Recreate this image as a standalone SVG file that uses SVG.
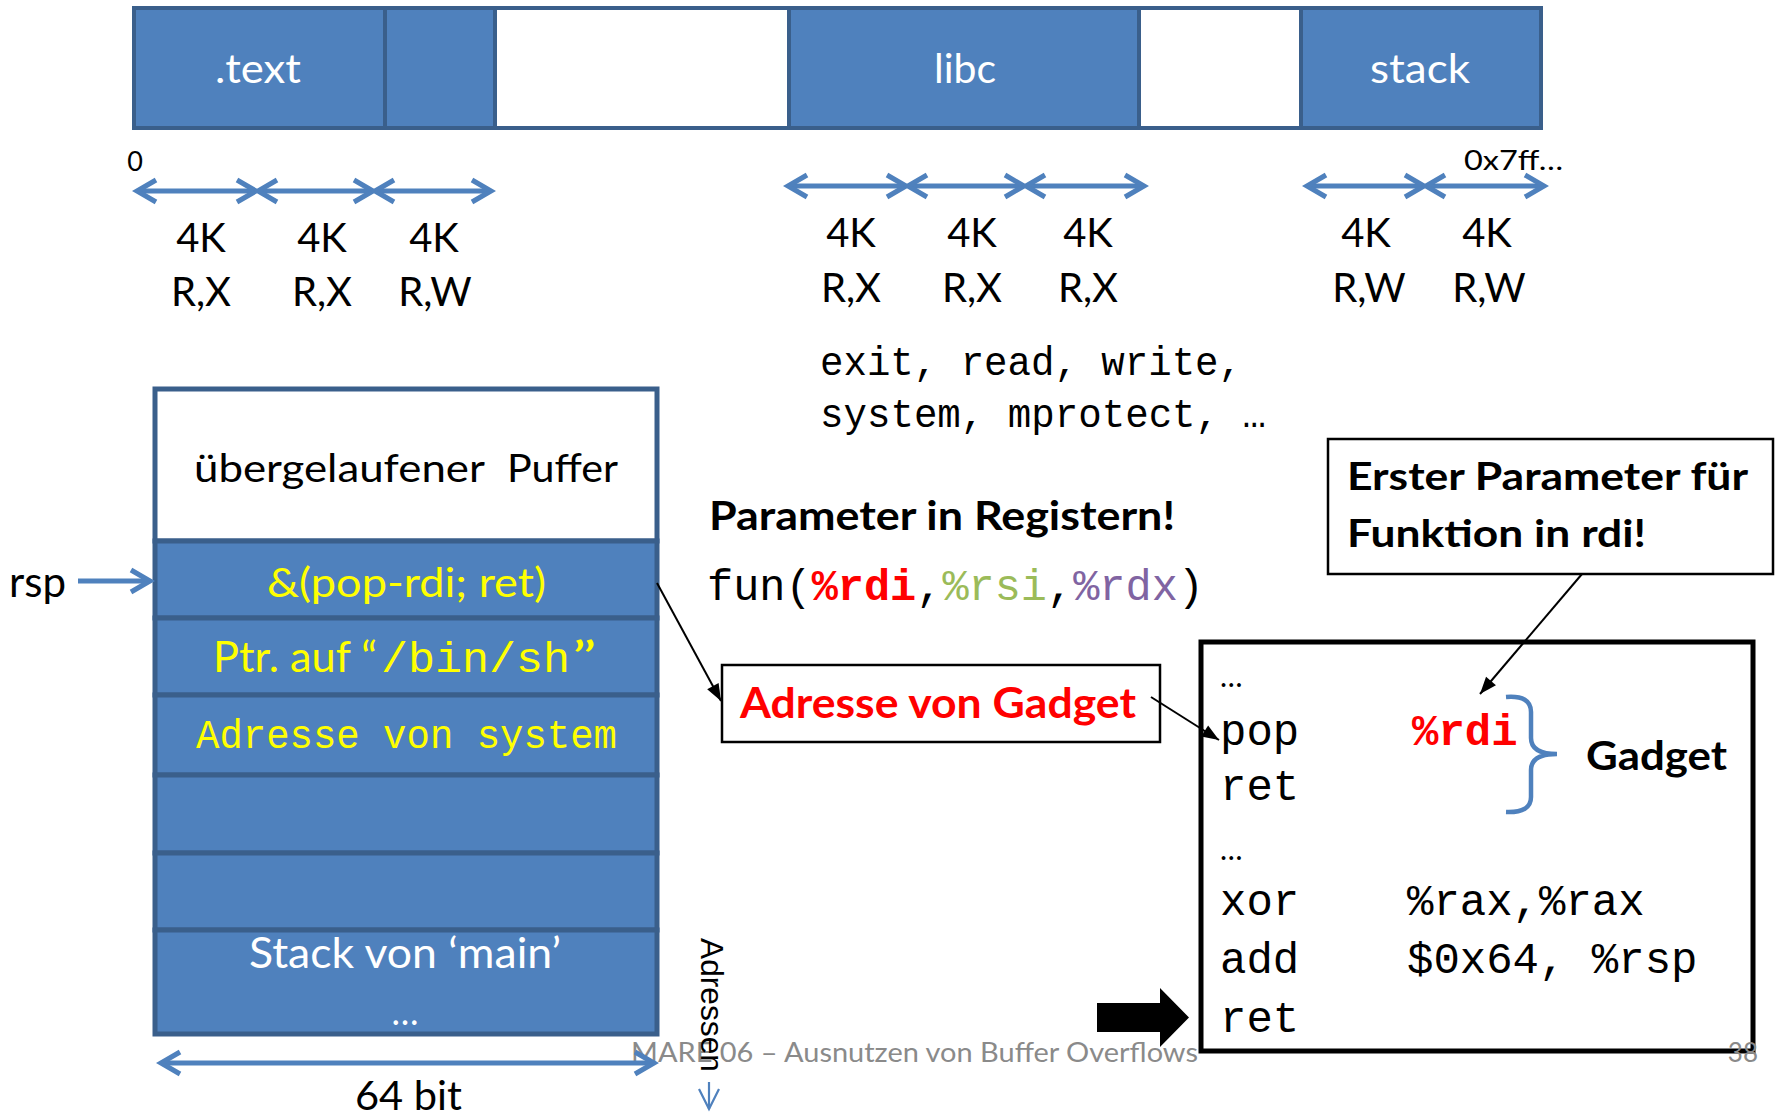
<svg xmlns="http://www.w3.org/2000/svg" width="1777" height="1120" viewBox="0 0 1777 1120">
<style>
  .sans { font-family: "Lato", "Liberation Sans", sans-serif; }
  .mono { font-family: "Liberation Mono", "DejaVu Sans Mono", monospace; }
  .arial { font-family: "Liberation Sans", Arial, sans-serif; }
  .seg { fill: #4f81bd; stroke: #3a5f8b; stroke-width: 4; }
  .gap { fill: #ffffff; stroke: #3a5f8b; stroke-width: 4; }
  .cell { fill: #4f81bd; stroke: #3a5f8b; stroke-width: 5; }
  .cellw { fill: #ffffff; stroke: #3a5f8b; stroke-width: 5; }
  .wt { fill: #ffffff; }
  .bk { fill: #000000; }
  .yl { fill: #ffff00; }
  .rd { fill: #ff0000; }
  .bline { stroke: #4f81bd; stroke-width: 5; fill: none; }
  .kline { stroke: #000000; stroke-width: 2; fill: none; }
  .box { fill: #ffffff; stroke: #000000; stroke-width: 2.5; }
  .lbl { font-size: 40px; }
</style>
<defs>
  <marker id="chev" markerUnits="userSpaceOnUse" orient="auto-start-reverse" refX="0" refY="0" markerWidth="30" markerHeight="30" style="overflow:visible">
    <path d="M-19,-11 L0,0 L-19,11" fill="none" stroke="#4f81bd" stroke-width="5"/>
  </marker>
  <marker id="chevThin" markerUnits="userSpaceOnUse" orient="auto" refX="0" refY="0" markerWidth="30" markerHeight="30" style="overflow:visible">
    <path d="M-20,-10 L0,0 L-20,10" fill="none" stroke="#4f81bd" stroke-width="2.2"/>
  </marker>
  <marker id="tri" markerUnits="userSpaceOnUse" orient="auto" refX="0" refY="0" markerWidth="30" markerHeight="30" style="overflow:visible">
    <path d="M-17,-6.5 L0,0 L-17,6.5 Z" fill="#000000"/>
  </marker>
</defs>

<!-- memory layout bar -->
<g id="seg-text"><rect class="seg" x="134" y="8" width="251" height="120"/>
  <text class="sans wt" x="215" y="83" font-size="40" textLength="86" lengthAdjust="spacingAndGlyphs">.text</text></g>
<g id="seg-data"><rect class="seg" x="385" y="8" width="110" height="120"/></g>
<g id="seg-gap1"><rect class="gap" x="495" y="8" width="294" height="120"/></g>
<g id="seg-libc"><rect class="seg" x="789" y="8" width="350" height="120"/>
  <text class="sans wt" x="934" y="83" font-size="40" textLength="62" lengthAdjust="spacingAndGlyphs">libc</text></g>
<g id="seg-gap2"><rect class="gap" x="1139" y="8" width="162" height="120"/></g>
<g id="seg-stack"><rect class="seg" x="1301" y="8" width="240" height="120"/>
  <text class="sans wt" x="1370" y="83" font-size="40" textLength="100" lengthAdjust="spacingAndGlyphs">stack</text></g>

<g id="addr-labels">
  <text class="sans bk" x="135" y="171" font-size="27" text-anchor="middle">0</text>
  <text class="sans bk" x="1464" y="170" font-size="27" textLength="99" lengthAdjust="spacingAndGlyphs">0x7ff…</text>
</g>

<g id="page-labels" class="sans bk lbl" text-anchor="middle">
  <text x="201" y="252">4K</text><text x="201" y="306">R,X</text>
  <text x="322" y="252">4K</text><text x="322" y="306">R,X</text>
  <text x="434" y="252">4K</text><text x="435" y="306">R,W</text>
  <text x="851" y="247">4K</text><text x="851" y="302">R,X</text>
  <text x="972" y="247">4K</text><text x="972" y="302">R,X</text>
  <text x="1088" y="247">4K</text><text x="1088" y="302">R,X</text>
  <text x="1366" y="247">4K</text><text x="1369" y="302">R,W</text>
  <text x="1487" y="247">4K</text><text x="1489" y="302">R,W</text>
</g>

<g id="libc-funcs" class="mono bk" font-size="40">
  <text x="820" y="375" textLength="422" lengthAdjust="spacingAndGlyphs">exit, read, write,</text>
  <text x="820" y="427" textLength="446" lengthAdjust="spacingAndGlyphs">system, mprotect, …</text>
</g>

<!-- stack -->
<g id="stack">
  <g id="cell-buffer"><rect class="cellw" x="155" y="389" width="502" height="152"/>
    <text class="sans bk" y="482" font-size="39"><tspan x="194" textLength="290" lengthAdjust="spacingAndGlyphs">übergelaufener</tspan> <tspan x="507" textLength="111" lengthAdjust="spacingAndGlyphs">Puffer</tspan></text></g>
  <g id="cell-gadget"><rect class="cell" x="155" y="541" width="502" height="77"/>
    <text class="sans yl" x="267" y="597" font-size="40" textLength="279" lengthAdjust="spacingAndGlyphs">&amp;(pop-rdi; ret)</text></g>
  <g id="cell-binsh"><rect class="cell" x="155" y="618" width="502" height="77"/>
    <text class="yl" y="672" font-size="42"><tspan class="sans" x="213" textLength="164" lengthAdjust="spacingAndGlyphs">Ptr. auf “</tspan><tspan class="mono" x="381" textLength="189" lengthAdjust="spacingAndGlyphs">/bin/sh</tspan><tspan class="sans" x="572" textLength="25" lengthAdjust="spacingAndGlyphs">”</tspan></text></g>
  <g id="cell-system"><rect class="cell" x="155" y="695" width="502" height="80"/>
    <text class="mono yl" x="196" y="748" font-size="40" textLength="421" lengthAdjust="spacingAndGlyphs">Adresse von system</text></g>
  <g id="cell-empty1"><rect class="cell" x="155" y="775" width="502" height="78"/></g>
  <g id="cell-empty2"><rect class="cell" x="155" y="853" width="502" height="77"/></g>
  <g id="cell-main"><rect class="cell" x="155" y="930" width="502" height="104"/>
    <text class="sans wt" x="249" y="968" font-size="42" textLength="312" lengthAdjust="spacingAndGlyphs">Stack von ‘main’</text>
    <text class="sans wt" x="405" y="1025" font-size="36" text-anchor="middle">…</text></g>
</g>

<g id="rsp-label"><text class="sans bk" x="9" y="597" font-size="43" textLength="57" lengthAdjust="spacingAndGlyphs">rsp</text></g>
<g id="width-label"><text class="sans bk" x="355" y="1110" font-size="40" textLength="107" lengthAdjust="spacingAndGlyphs">64 bit</text></g>

<g id="param-text">
  <text class="sans bk" x="709" y="530" font-size="40" font-weight="bold" textLength="466" lengthAdjust="spacingAndGlyphs">Parameter in Registern!</text>
  <text class="mono bk" x="707" y="600" font-size="44" textLength="497" lengthAdjust="spacingAndGlyphs">fun(<tspan fill="#ff0000" font-weight="bold">%rdi</tspan>,<tspan fill="#9bbb59">%rsi</tspan>,<tspan fill="#8064a2">%rdx</tspan>)</text>
</g>

<g id="gadget-addr"><rect class="box" x="722" y="665" width="438" height="77"/>
  <text class="sans rd" x="740" y="718" font-size="42" font-weight="bold" textLength="396" lengthAdjust="spacingAndGlyphs">Adresse von Gadget</text></g>

<g id="note"><rect class="box" x="1328" y="439" width="445" height="135"/>
  <text class="sans bk" x="1347" y="490" font-size="38" font-weight="bold" textLength="401" lengthAdjust="spacingAndGlyphs">Erster Parameter für</text>
  <text class="sans bk" x="1347" y="547" font-size="38" font-weight="bold" textLength="299" lengthAdjust="spacingAndGlyphs">Funktion in rdi!</text></g>

<g id="code"><rect x="1201" y="642" width="552" height="409" fill="#ffffff" stroke="#000000" stroke-width="5"/>
  <text class="sans bk" x="1220" y="687" font-size="30">…</text>
  <text class="mono bk" y="745" font-size="44"><tspan x="1220">pop</tspan><tspan x="1412" fill="#ff0000" font-weight="bold">%rdi</tspan></text>
  <text class="mono bk" x="1220" y="800" font-size="44">ret</text>
  <text class="sans bk" x="1220" y="860" font-size="30">…</text>
  <text class="mono bk" y="915" font-size="44"><tspan x="1220">xor</tspan><tspan x="1407">%rax,%rax</tspan></text>
  <text class="mono bk" y="973" font-size="44"><tspan x="1220">add</tspan><tspan x="1407">$0x64, %rsp</tspan></text>
  <text class="mono bk" x="1220" y="1032" font-size="44">ret</text>
  <path d="M1506,697 Q1531,695 1531,712 L1531,738 Q1531,754 1557,754 Q1531,754 1531,770 L1531,797 Q1531,813 1506,812" fill="none" stroke="#4f81bd" stroke-width="4.5"/>
  <text class="sans bk" x="1586" y="770" font-size="40" font-weight="bold" textLength="141" lengthAdjust="spacingAndGlyphs">Gadget</text>
</g>

<g id="pc-arrow"><polygon points="1097,1003 1160,1003 1160,988 1189,1017.5 1160,1047 1160,1032 1097,1032" fill="#000000"/></g>

<!-- footer -->
<g id="footer">
  <text class="sans" x="631" y="1062" font-size="26" fill="#8a8a8a" textLength="567" lengthAdjust="spacingAndGlyphs">MARE 06 – Ausnutzen von Buffer Overflows</text>
  <text class="sans" x="1758" y="1062" font-size="26" fill="#8a8a8a" text-anchor="end">38</text>
</g>

<g id="adressen-label"><text class="arial bk" font-size="32" transform="translate(701,938) rotate(90)" textLength="134" lengthAdjust="spacingAndGlyphs">Adressen</text></g>

<!-- connectors -->
<g id="connectors">
  <line class="bline" x1="137" y1="191" x2="256" y2="191" marker-start="url(#chev)" marker-end="url(#chev)"/>
  <line class="bline" x1="258" y1="191" x2="373" y2="191" marker-start="url(#chev)" marker-end="url(#chev)"/>
  <line class="bline" x1="375" y1="191" x2="491" y2="191" marker-start="url(#chev)" marker-end="url(#chev)"/>
  <line class="bline" x1="788" y1="186" x2="906" y2="186" marker-start="url(#chev)" marker-end="url(#chev)"/>
  <line class="bline" x1="908" y1="186" x2="1024" y2="186" marker-start="url(#chev)" marker-end="url(#chev)"/>
  <line class="bline" x1="1026" y1="186" x2="1144" y2="186" marker-start="url(#chev)" marker-end="url(#chev)"/>
  <line class="bline" x1="1307" y1="186" x2="1424" y2="186" marker-start="url(#chev)" marker-end="url(#chev)"/>
  <line class="bline" x1="1426" y1="186" x2="1544" y2="186" marker-start="url(#chev)" marker-end="url(#chev)"/>
  <line class="bline" x1="78" y1="581" x2="150" y2="581" marker-end="url(#chev)"/>
  <line class="bline" x1="161" y1="1063" x2="654" y2="1063" marker-start="url(#chev)" marker-end="url(#chev)"/>
  <line x1="709" y1="1082" x2="709" y2="1109" stroke="#4f81bd" stroke-width="2.2" marker-end="url(#chevThin)"/>
  <line class="kline" x1="657" y1="583" x2="721" y2="701" marker-end="url(#tri)"/>
  <line class="kline" x1="1151" y1="697" x2="1219" y2="740" marker-end="url(#tri)"/>
  <line class="kline" x1="1582" y1="574" x2="1480" y2="694" marker-end="url(#tri)"/>
</g>
</svg>
